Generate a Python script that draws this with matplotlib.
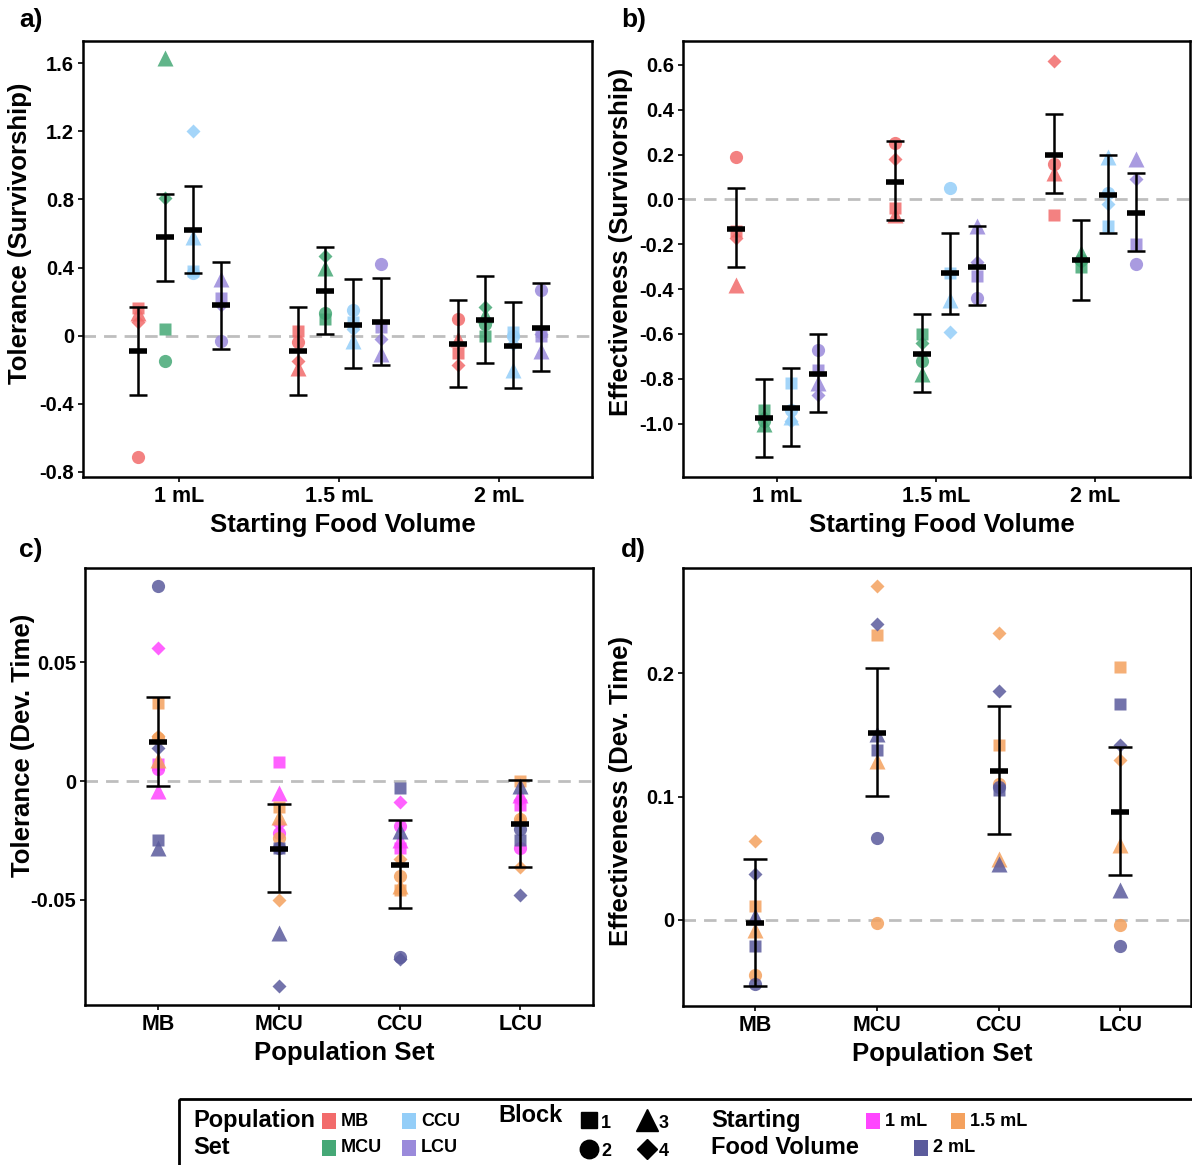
import numpy as np
import matplotlib
matplotlib.use('Agg')
import matplotlib.pyplot as plt
from matplotlib.patches import Rectangle

plt.rcParams['font.family'] = ['Liberation Sans', 'DejaVu Sans']
plt.rcParams['font.weight'] = 'bold'
plt.rcParams['axes.labelweight'] = 'bold'


## 1. DATA ----------------

volumes = ['1 mL', '1.5 mL', '2 mL']
populations = ['MB', 'MCU', 'CCU', 'LCU']
blocks = ['1', '2', '3', '4']   # 1 square, 2 circle, 3 triangle, 4 diamond

pop_colors = ['#F26B6B', '#45A876', '#94CEF8', '#9A8ADB']
vol_colors = ['#FF45FF', '#F4A15E', '#5B5B9C']
block_markers = ['s', 'o', '^', 'D']
marker_size = {'s': 8.5, 'o': 9.5, '^': 11, 'D': 7}

# a) tolerance (survivorship): [volume][population][block]
tol_surv = [
    [[0.16, -0.71, 0.13, 0.08], [0.04, -0.15, 1.63, 0.81], [0.38, 0.37, 0.58, 1.20], [0.22, -0.03, 0.33, 0.18]],
    [[0.03, -0.04, -0.19, -0.15], [0.10, 0.13, 0.40, 0.47], [0.08, 0.15, -0.03, 0.04], [0.05, 0.42, -0.11, -0.02]],
    [[-0.10, 0.10, -0.02, -0.17], [0.00, 0.07, 0.12, 0.17], [0.02, 0.00, -0.20, -0.05], [0.00, 0.27, -0.09, 0.01]],
]
tol_surv_mean = [[-0.09, 0.58, 0.62, 0.18], [-0.09, 0.26, 0.06, 0.08], [-0.05, 0.09, -0.06, 0.045]]
tol_surv_hi = [[0.17, 0.83, 0.88, 0.43], [0.17, 0.52, 0.33, 0.34], [0.21, 0.35, 0.20, 0.31]]
tol_surv_lo = [[-0.35, 0.32, 0.37, -0.08], [-0.35, 0.01, -0.19, -0.17], [-0.30, -0.16, -0.31, -0.21]]

# b) effectiveness (survivorship): [volume][population][block]
eff_surv = [
    [[-0.14, 0.19, -0.38, -0.17], [-0.94, -0.99, -1.00, -0.97], [-0.82, -0.94, -0.97, -0.99], [-0.76, -0.67, -0.82, -0.87]],
    [[-0.04, 0.25, -0.07, 0.18], [-0.60, -0.72, -0.78, -0.64], [-0.33, 0.05, -0.45, -0.59], [-0.34, -0.44, -0.12, -0.28]],
    [[-0.07, 0.16, 0.12, 0.62], [-0.30, -0.27, -0.24, -0.28], [-0.12, 0.03, 0.19, -0.02], [-0.20, -0.29, 0.18, 0.09]],
]
eff_surv_mean = [[-0.13, -0.975, -0.93, -0.78], [0.08, -0.69, -0.33, -0.30], [0.20, -0.27, 0.02, -0.06]]
eff_surv_hi = [[0.05, -0.80, -0.75, -0.60], [0.26, -0.51, -0.15, -0.12], [0.38, -0.09, 0.20, 0.12]]
eff_surv_lo = [[-0.30, -1.15, -1.10, -0.95], [-0.09, -0.86, -0.51, -0.47], [0.03, -0.45, -0.15, -0.23]]

# c) tolerance (dev. time): [population][volume][block]
tol_dev = [
    [[0.007, 0.005, -0.004, 0.056], [0.033, 0.018, 0.009, 0.019], [-0.025, 0.082, -0.028, 0.014]],
    [[0.008, -0.022, -0.005, -0.018], [-0.011, -0.024, -0.015, -0.050], [-0.028, -0.028, -0.064, -0.086]],
    [[-0.028, -0.019, -0.025, -0.009], [-0.046, -0.040, -0.044, -0.033], [-0.003, -0.074, -0.021, -0.075]],
    [[-0.010, -0.028, -0.006, -0.008], [0.000, -0.016, -0.015, -0.036], [-0.025, -0.020, -0.002, -0.048]],
]
tol_dev_mean = [0.0163, -0.0285, -0.0352, -0.0182]
tol_dev_hi = [0.0354, -0.0096, -0.0163, 0.0006]
tol_dev_lo = [-0.0020, -0.0468, -0.0534, -0.0363]

# d) effectiveness (dev. time): [population][volume 1.5 / 2 mL][block]
eff_dev = [
    [[0.011, -0.045, -0.008, 0.064], [-0.021, -0.052, 0.003, 0.037]],
    [[0.231, -0.003, 0.129, 0.271], [0.138, 0.066, 0.151, 0.240]],
    [[0.142, 0.110, 0.049, 0.233], [0.105, 0.108, 0.045, 0.186]],
    [[0.205, -0.004, 0.061, 0.130], [0.175, -0.021, 0.024, 0.142]],
]
eff_dev_mean = [-0.0027, 0.1517, 0.1208, 0.0877]
eff_dev_hi = [0.0497, 0.2046, 0.1737, 0.1406]
eff_dev_lo = [-0.0537, 0.1004, 0.0695, 0.0366]


## 2. HELPERS ----------------

W, H = 1192, 1165
fig = plt.figure(figsize=(W / 100, H / 100), dpi=100)


def px_axes(x0, y0, x1, y1):
    # rect given in image pixels (top-left origin)
    return fig.add_axes([x0 / W, 1 - y1 / H, (x1 - x0) / W, (y1 - y0) / H])


def style_axes(ax, xlim, ylim, yticks, yticklabels, xticklabels, xlabel, ylabel, ylab_y):
    ax.set_xlim(*xlim)
    ax.set_ylim(*ylim)
    ax.axhline(0, color='#BEBEBE', lw=2, ls=(0, (4.5, 2.9)), zorder=0)
    ax.set_yticks(yticks)
    ax.set_yticklabels(yticklabels, fontsize=14.5)
    ax.set_xticks(np.arange(1, len(xticklabels) + 1))
    ax.set_xticklabels(xticklabels, fontsize=15.5)
    ax.tick_params(length=3.5, width=1.2, pad=3, colors='black')
    for s in ax.spines.values():
        s.set_linewidth(1.8)
    ax.set_xlabel(xlabel, fontsize=18.5, va='center')
    ax.xaxis.set_label_coords(0.51, -0.11)
    ax.set_ylabel(ylabel, fontsize=18.5, va='center')
    ax.yaxis.set_label_coords(-0.123, ylab_y)


def mean_bars(ax, x, mean, hi, lo, capsize):
    mean, hi, lo = np.asarray(mean), np.asarray(hi), np.asarray(lo)
    ax.errorbar(x, mean, yerr=[mean - lo, hi - mean], fmt='none', ecolor='black',
                elinewidth=1.8, capsize=capsize, capthick=1.8, zorder=4)
    ax.plot(x, mean, ls='none', marker='_', ms=13, mew=4, color='black', zorder=5)


def pt(ax, x, y, k, color):
    m = block_markers[k]
    ax.plot(x, y, ls='none', marker=m, ms=marker_size[m], color=color, mec='none', alpha=0.85, zorder=3)


offsets = (np.arange(len(populations)) - 1.5) * 0.173


## 3. PANELS a & b ----------------

def survival_panel(ax, pts, mean, hi, lo):
    for i in range(len(volumes)):
        for j in range(len(populations)):
            x = i + 1 + offsets[j]
            for k in range(len(blocks)):
                pt(ax, x, pts[i][j][k], k, pop_colors[j])
    for i in range(len(volumes)):
        mean_bars(ax, i + 1 + offsets, mean[i], hi[i], lo[i], 6.2)


ax_a = px_axes(83, 41, 592, 477)
survival_panel(ax_a, tol_surv, tol_surv_mean, tol_surv_hi, tol_surv_lo)
style_axes(ax_a, (0.4, 3.58), (-0.83, 1.73), [-0.8, -0.4, 0, 0.4, 0.8, 1.2, 1.6],
           ['-0.8', '-0.4', '0', '0.4', '0.8', '1.2', '1.6'], volumes,
           'Starting Food Volume', 'Tolerance (Survivorship)', 0.56)

ax_b = px_axes(683, 41, 1190, 477)
survival_panel(ax_b, eff_surv, eff_surv_mean, eff_surv_hi, eff_surv_lo)
style_axes(ax_b, (0.406, 3.6), (-1.238, 0.707), [-1.0, -0.8, -0.6, -0.4, -0.2, 0.0, 0.2, 0.4, 0.6],
           ['-1.0', '-0.8', '-0.6', '-0.4', '-0.2', '0.0', '0.2', '0.4', '0.6'], volumes,
           'Starting Food Volume', 'Effectiveness (Survivorship)', 0.538)


## 4. PANELS c & d ----------------

def dev_panel(ax, pts, colors, mean, hi, lo):
    for j in range(len(populations)):
        for v in range(len(colors)):
            for k in range(len(blocks)):
                pt(ax, j + 1, pts[j][v][k], k, colors[v])
    mean_bars(ax, np.arange(1, len(populations) + 1), mean, hi, lo, 8.3)


ax_c = px_axes(85, 568, 593, 1005)
dev_panel(ax_c, tol_dev, vol_colors, tol_dev_mean, tol_dev_hi, tol_dev_lo)
style_axes(ax_c, (0.397, 4.6), (-0.0942, 0.0896), [-0.05, 0, 0.05], ['-0.05', '0', '0.05'],
           populations, 'Population Set', 'Tolerance (Dev. Time)', 0.595)

ax_d = px_axes(683, 568, 1191, 1006)
dev_panel(ax_d, eff_dev, vol_colors[1:], eff_dev_mean, eff_dev_hi, eff_dev_lo)
style_axes(ax_d, (0.406, 4.58), (-0.070, 0.2855), [0, 0.1, 0.2], ['0', '0.1', '0.2'],
           populations, 'Population Set', 'Effectiveness (Dev. Time)', 0.49)

for lab, (x, y) in zip(['a)', 'b)', 'c)', 'd)'], [(19, 20), (621, 20), (19, 550), (621, 550)]):
    fig.text(x / W, 1 - y / H, lab, fontsize=19, ha='left', va='center')


## 5. LEGEND ----------------

lax = fig.add_axes([0, 0, 1, 1])
lax.set_xlim(0, W)
lax.set_ylim(H, 0)
lax.axis('off')
lax.add_patch(Rectangle((179, 1099), 1040, 90, fill=False, lw=2, ec='black'))

rows = [1121, 1148]
lax.text(193, rows[0], 'Population', fontsize=17, va='center')
lax.text(193, rows[1], 'Set', fontsize=17, va='center')
for j, name in enumerate(populations):
    x = [322, 402][j // 2]
    y = rows[j % 2]
    lax.add_patch(Rectangle((x, y - 8), 14, 16, color=pop_colors[j], lw=0))
    lax.text(x + 19, y, name, fontsize=13, va='center')

lax.text(498, 1115, 'Block', fontsize=17, va='center')
for k, name in enumerate(blocks):
    x = [589, 647][k // 2]
    y = [1120, 1149][k % 2]
    m = block_markers[k]
    lax.plot(x, y, marker=m, ms=marker_size[m] * 1.4, color='black', ls='none')
    lax.text(x + 12, y + 3, name, fontsize=13, va='center')

lax.text(711, rows[0], 'Starting', fontsize=17, va='center')
lax.text(711, rows[1], 'Food Volume', fontsize=17, va='center')
for v, name in enumerate(volumes):
    x = [866, 951, 914][v]
    y = rows[[0, 0, 1][v]]
    lax.add_patch(Rectangle((x, y - 8), 14, 16, color=vol_colors[v], lw=0))
    lax.text(x + 19, y, name, fontsize=13, va='center')

fig.savefig('out.png', dpi=100)
